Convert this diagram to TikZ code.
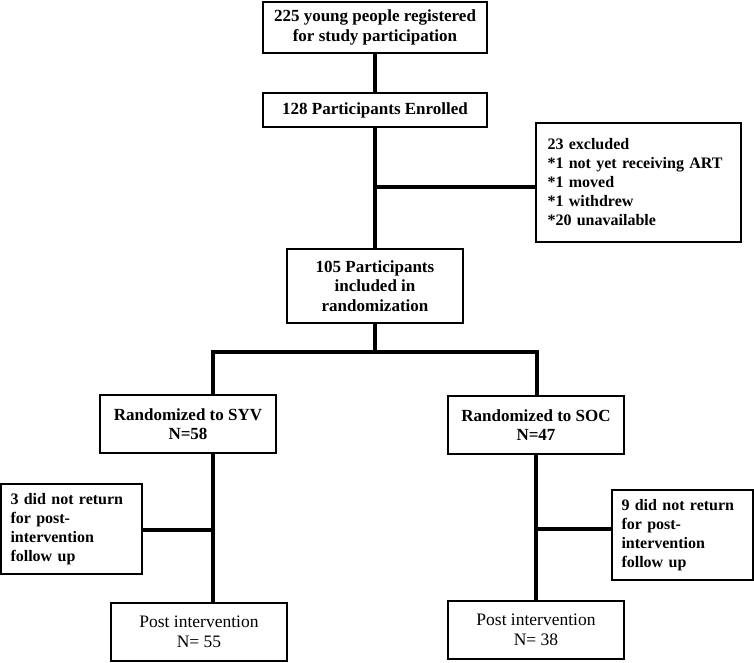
\documentclass[tikz,border=0pt]{standalone}
\usepackage{fontspec}
\setmainfont{Liberation Serif}
\usetikzlibrary{calc}

\begin{document}
\begin{tikzpicture}[x=1pt,y=-1pt,
  box/.style={draw,line width=1.3pt,inner sep=0pt,align=center,font=\bfseries\fontsize{17}{19.5}\selectfont},
  note/.style={draw,line width=1.3pt,inner sep=0pt,align=left,font=\bfseries\fontsize{16}{19}\selectfont},
  plain/.style={box,font=\fontsize{17.5}{20}\selectfont},
  link/.style={line width=4pt}]
\useasboundingbox (0,0) rectangle (754,662);
% main column
\node[box,minimum width=224pt,minimum height=51pt] (reg) at (375,27.5) {225 young people registered\\for study participation};
\node[box,minimum width=224pt,minimum height=34pt] (enr) at (375,110) {128 Participants Enrolled};
\node[box,minimum width=176pt,minimum height=74pt] (rand) at (375,286) {105 Participants\\included in\\randomization};
\node[note,minimum width=205pt,minimum height=119pt,text width=182pt] (excl) at (638.5,182.5) {23 excluded\\{*}1 not yet receiving ART\\{*}1 moved\\{*}1 withdrew\\{*}20 unavailable};
% two arms
\node[box,minimum width=176pt,minimum height=58pt] (syv) at (188,424) {Randomized to SYV\\N=58};
\node[box,minimum width=176pt,minimum height=58pt] (soc) at (536,425) {Randomized to SOC\\N=47};
\node[note,minimum width=141pt,minimum height=90pt,text width=122pt] (lossL) at (71.5,529) {3 did not return\\for post-\\intervention\\follow up};
\node[note,minimum width=141pt,minimum height=90pt,text width=122pt] (lossR) at (682.5,535) {9 did not return\\for post-\\intervention\\follow up};
\node[plain,minimum width=176pt,minimum height=58pt] (postL) at (199,632) {Post intervention\\N= 55};
\node[plain,minimum width=176pt,minimum height=58pt] (postR) at (536,630) {Post intervention\\N= 38};

\coordinate (jx) at (375,187);
\coordinate (split) at (375,352);
\coordinate (barL) at (213,352);
\coordinate (barR) at (537,352);
\coordinate (jl) at (213,530);
\coordinate (jr) at (536,529);

\draw[link] (reg) -- (enr);
\draw[link] (enr) -- (rand);
\draw[link] (jx) -- (jx -| excl.west);
\draw[link] (rand) -- (split);
\draw[link] ([xshift=-2pt]barL) -- ([xshift=2pt]barR);
\draw[link] (barL) -- (barL |- syv.north);
\draw[link] (barR) -- (barR |- soc.north);
\draw[link] (jl |- syv.south) -- (jl |- postL.north);
\draw[link] (jr |- soc.south) -- (jr |- postR.north);
\draw[link] (jl) -- (jl -| lossL.east);
\draw[link] (jr) -- (jr -| lossR.west);
\end{tikzpicture}
\end{document}
